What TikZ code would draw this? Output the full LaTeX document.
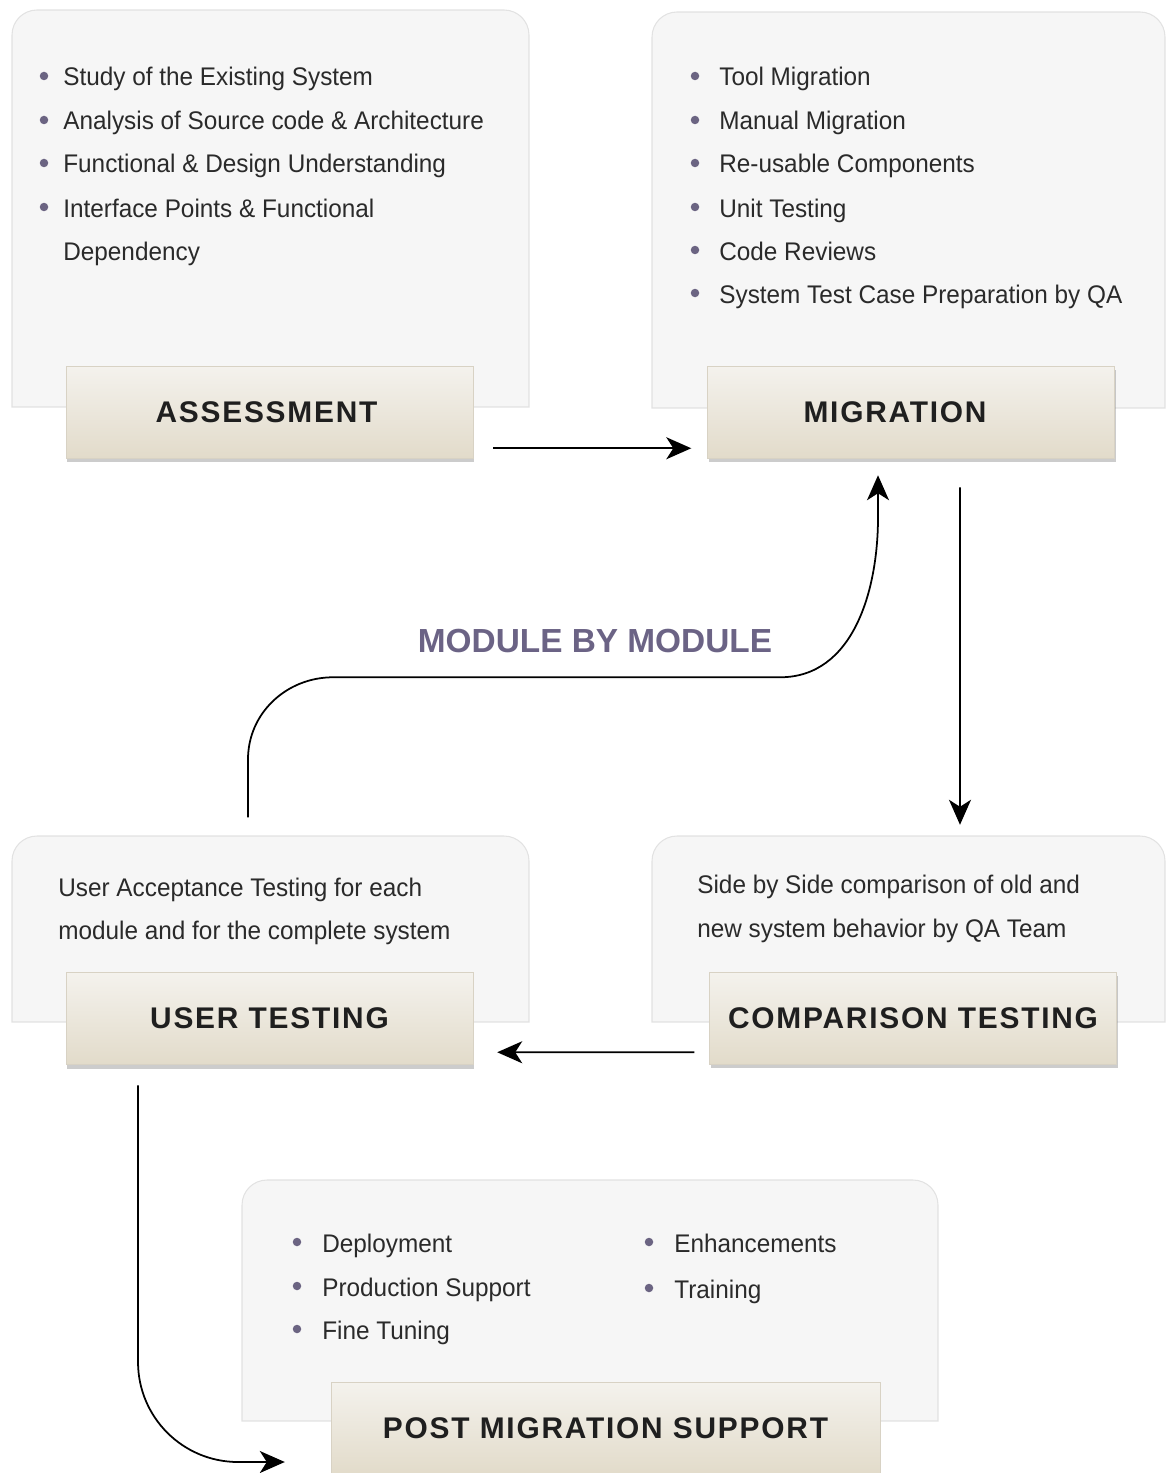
\documentclass[tikz,border=0pt]{standalone}
\usepackage{fontspec}
\setmainfont{Liberation Sans}
\newfontfamily\itemfont[FakeStretch=0.955]{Liberation Sans}
\newfontfamily\tagfont[LetterSpace=6]{Liberation Sans}
\usetikzlibrary{arrows.meta,shadows}

\definecolor{panelgray}{HTML}{F6F6F6}
\definecolor{panelline}{HTML}{E2E2E2}
\definecolor{tagtop}{HTML}{F4F2ED}
\definecolor{tagbot}{HTML}{E2DBCA}
\definecolor{tagline}{HTML}{D8D2C4}
\definecolor{dotcol}{HTML}{6B6482}
\definecolor{textcol}{HTML}{2A2A2A}
\definecolor{modcol}{HTML}{6B6385}

\newcommand\panelbox[4]{%
  \filldraw[panel] (#1,{(#2+#4)/2}) [rounded corners=0.5cm] -- (#1,#2) -- (#3,#2)
    -- (#3,{(#2+#4)/2}) [sharp corners] -- (#3,#4) -- (#1,#4) -- cycle;}

\begin{document}
\begin{tikzpicture}
[x=0.02cm,y=-0.02cm,
  panel/.style={fill=panelgray,draw=panelline,line width=0.6pt},%
  tagbox/.style={shape=rectangle,minimum width=8.14cm,minimum height=1.84cm,
    top color=tagtop,bottom color=tagbot,draw=tagline,line width=0.3pt,
    drop shadow={shadow xshift=0.8pt,shadow yshift=-2.5pt,opacity=0.4},
    font=\tagfont\fontsize{17}{20}\selectfont\bfseries,text=black!88},%
  itemtext/.style={anchor=base west,inner sep=0pt,text=textcol,
    font=\itemfont\fontsize{14.5}{17}\selectfont},%
  arr/.style={-{Stealth[length=0.5cm,width=0.44cm,inset=0.14cm]},line width=1pt}]
\useasboundingbox (0,0) rectangle (1167,1473);

%% panels
\panelbox{12}{10}{529}{407}
\panelbox{652}{12}{1165}{408}
\panelbox{12}{836}{529}{1022}
\panelbox{652}{836}{1165}{1022}
\panelbox{242}{1180}{938}{1421}

%% bullet items
\foreach \nodename/\y/\txt in {
  as1/86/Study of the Existing System,
  as2/130/Analysis of Source code \& Architecture,
  as3/173/Functional \& Design Understanding,
  as4/217/Interface Points \& Functional}
{
  \fill[dotcol] (44,\y-10) circle (0.085cm);
  \node[itemtext] (\nodename) at (63,\y) {\txt};
}
\node[itemtext] (as5) at (63,260) {Dependency};

\foreach \nodename/\y/\txt in {
  mi1/86/Tool Migration, mi2/130/Manual Migration,
  mi3/173/Re-usable Components, mi4/217/Unit Testing,
  mi5/260/Code Reviews, mi6/303/System Test Case Preparation by QA}
{
  \fill[dotcol] (695,\y-10) circle (0.085cm);
  \node[itemtext] (\nodename) at (719,\y) {\txt};
}

\node[itemtext] (ut1) at (58,896) {User Acceptance Testing for each};
\node[itemtext] (ut2) at (58,939) {module and for the complete system};
\node[itemtext] (ct1) at (697,893) {Side by Side comparison of old and};
\node[itemtext] (ct2) at (697,937) {new system behavior by QA Team};

\foreach \nodename/\x/\y/\txt in {
  pm1/297/1252/Deployment, pm2/297/1296/Production Support,
  pm3/297/1339/Fine Tuning, pm4/649/1252/Enhancements,
  pm5/649/1298/Training}
{
  \fill[dotcol] (\x,\y-10) circle (0.085cm);
  \node[itemtext] (\nodename) at (\x+25,\y) {\txt};
}

%% stage boxes
\node[tagbox] (assess) at (269.5,412) {\hspace*{-0.12cm}ASSESSMENT};
\node[tagbox] (migr) at (911,412) {\hspace*{-0.64cm}MIGRATION};
\node[tagbox] (usert) at (269.5,1018.5) {USER TESTING};
\node[tagbox] (compt) at (913,1018) {COMPARISON TESTING};
\node[tagbox,minimum width=10.98cm] (postm) at (605.5,1428) {POST MIGRATION SUPPORT};

\node[text=modcol,font=\fontsize{19}{22}\selectfont\bfseries] (mbm) at (595,641) {MODULE BY MODULE};

%% connectors
\draw[arr] ([xshift=0.4cm,yshift=0.2cm]assess.south east)
  -- ([xshift=-0.32cm,yshift=0.2cm]migr.south west);
\draw[arr] ([xshift=0.98cm,yshift=-0.58cm]migr.south)
  -- ([xshift=0.94cm,yshift=2.94cm]compt.north);
\draw[arr] ([xshift=-0.3cm,yshift=0.24cm]compt.south west)
  -- ([xshift=0.48cm,yshift=0.25cm]usert.south east);
\draw[arr] ([xshift=-0.43cm,yshift=3.1cm]usert.north)
  -- ++(0,-58) to[out=90,in=180] ++(85,-82) -- ++(447,0)
  to[out=0,in=-90] ++(98,-160) -- ([xshift=-0.66cm,yshift=-0.34cm]migr.south);
\draw[arr,rounded corners=2cm] ([xshift=-2.63cm,yshift=-0.41cm]usert.south)
  |- ([xshift=-0.92cm,yshift=-0.68cm]postm.west);
\end{tikzpicture}
\end{document}
